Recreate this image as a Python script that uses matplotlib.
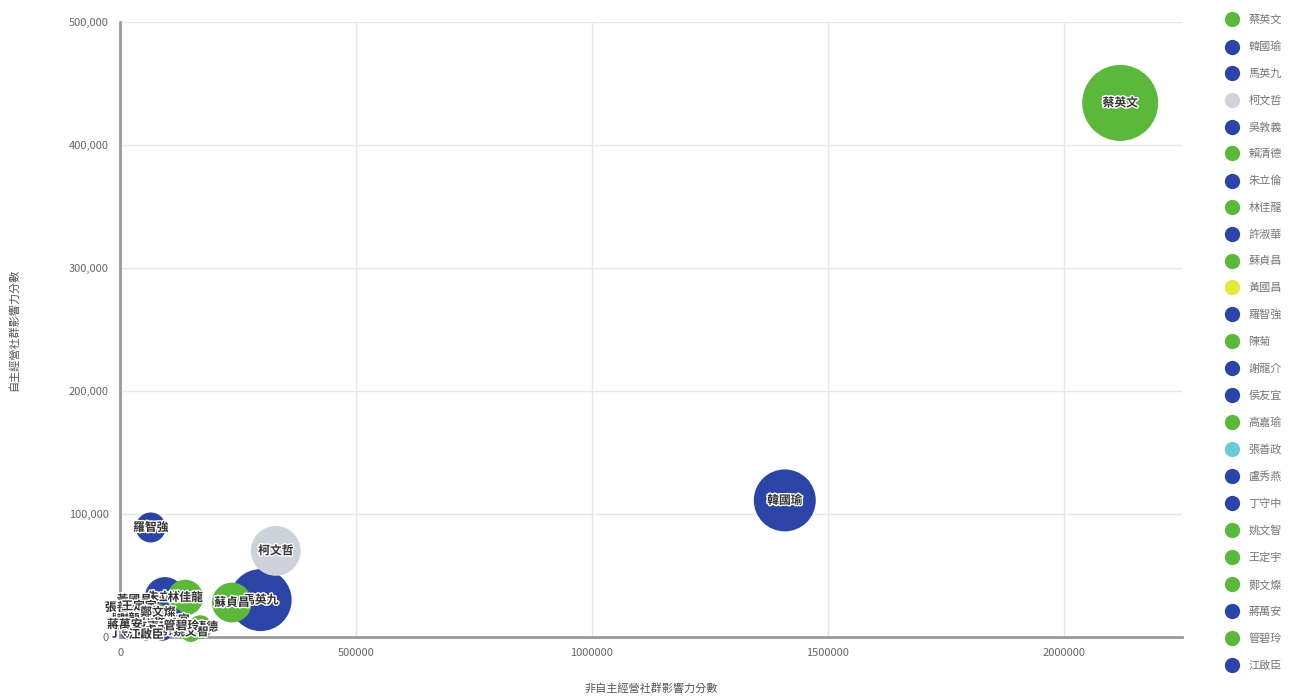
import matplotlib
matplotlib.use("Agg")
import matplotlib.pyplot as plt
import matplotlib.patheffects as pe
from matplotlib.lines import Line2D
import numpy as np

plt.rcParams['font.family'] = ['Noto Sans CJK TC', 'DejaVu Sans']

# data
names = ['蔡英文', '韓國瑜', '馬英九', '柯文哲', '吳敦義', '賴清德', '朱立倫', '林佳龍',
         '許淑華', '蘇貞昌', '黃國昌', '羅智強', '陳菊', '謝龍介', '侯友宜', '高嘉瑜',
         '張善政', '盧秀燕', '丁守中', '姚文智', '王定宇', '鄭文燦', '蔣萬安', '管碧玲', '江啟臣']
party = ['dpp', 'kmt', 'kmt', 'ind', 'kmt', 'dpp', 'kmt', 'dpp',
         'kmt', 'dpp', 'npp', 'kmt', 'dpp', 'kmt', 'kmt', 'dpp',
         'tpp', 'kmt', 'kmt', 'dpp', 'dpp', 'dpp', 'kmt', 'dpp', 'kmt']
other_score = [2120000, 1409000, 298000, 330000, 60000, 170000, 95000, 138000,
               20000, 237000, 30000, 65000, 45000, 30000, 110000, 70000,
               5000, 90000, 15000, 150000, 40000, 80000, 10000, 130000, 55000]
self_score = [434000, 111000, 30000, 70000, 12000, 8000, 32500, 32000,
              20000, 28000, 30000, 89000, 5000, 15000, 14000, 8000,
              24000, 5000, 3000, 4000, 25000, 20000, 10000, 9000, 2000]
volume = [100, 61, 61, 35, 1.6, 3.5, 19, 14,
          0.4, 19, 0.4, 8, 0.9, 0.4, 3.5, 0.9,
          0.1, 1.6, 0.1, 1.6, 0.4, 0.9, 0.1, 0.9, 0.1]

colors = {'dpp': '#5cb83b', 'kmt': '#2b44a6', 'ind': '#cdd3dd',
          'npp': '#e6e63a', 'tpp': '#6ccbd6'}

fig = plt.figure(figsize=(12.98, 7.0), dpi=100)
ax = fig.add_axes([0.0925, 0.09, 0.8185, 0.879])

vol = np.array(volume)
radius_px = 6 + 32 * np.sqrt((vol - vol.min()) / (vol.max() - vol.min()))
sizes = (2 * radius_px * 0.72) ** 2

for i, n in enumerate(names):
    ax.scatter(other_score[i], self_score[i], s=sizes[i], color=colors[party[i]],
               edgecolors='none', zorder=3, clip_on=False)
for i, n in enumerate(names):
    ax.text(other_score[i], self_score[i], n, ha='center', va='center',
            fontsize=8.5, fontweight='bold', color='#333333', zorder=5,
            path_effects=[pe.withStroke(linewidth=2, foreground='white')])

ax.set_xlim(0, 2252000)
ax.set_ylim(0, 500000)
ax.set_xticks([0, 500000, 1000000, 1500000, 2000000])
ax.set_xticklabels(['0', '500000', '1000000', '1500000', '2000000'])
ax.set_yticks([0, 100000, 200000, 300000, 400000, 500000])
ax.set_yticklabels(['0', '100,000', '200,000', '300,000', '400,000', '500,000'])
ax.tick_params(length=0, labelsize=8, colors='#666666', pad=8)
ax.grid(True, color='#e6e6e6', linewidth=1)
ax.set_axisbelow(True)
for s in ['top', 'right']:
    ax.spines[s].set_visible(False)
for s in ['left', 'bottom']:
    ax.spines[s].set_color('#9a9a9a')
    ax.spines[s].set_linewidth(2)

ax.set_xlabel('非自主經營社群影響力分數', fontsize=8, color='#555555', labelpad=18)
ax.set_ylabel('自主經營社群影響力分數', fontsize=8, color='#555555', labelpad=36)

handles = [Line2D([], [], marker='o', linestyle='none', markersize=11,
                  markerfacecolor=colors[p], markeredgecolor='none') for p in party]
fig.legend(handles, names, loc='upper left', bbox_to_anchor=(0.937, 0.985),
           frameon=False, fontsize=8, labelspacing=1.48, handletextpad=0.5,
           labelcolor='#777777', borderaxespad=0)

fig.savefig('out.png', dpi=100, facecolor='white')
